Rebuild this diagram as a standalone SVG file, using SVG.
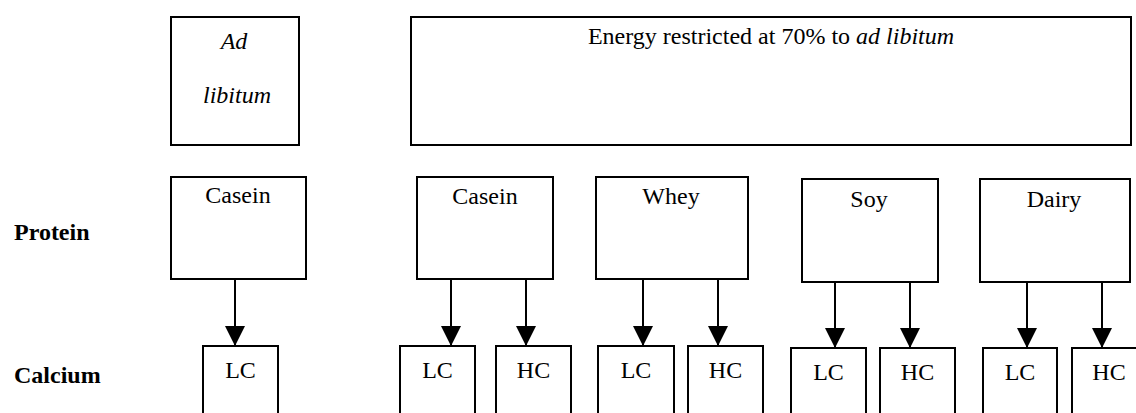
<svg xmlns="http://www.w3.org/2000/svg" width="1136" height="413" viewBox="0 0 1136 413">
<style>
.box{fill:#fff;stroke:#000;stroke-width:2}
.t{font-family:"Liberation Serif","Times New Roman",serif;font-size:24px;fill:#000;text-anchor:middle}
.it{font-style:italic}
.lab{font-family:"Liberation Serif","Times New Roman",serif;font-size:24px;font-weight:bold;fill:#000}
.arr{stroke:#000;stroke-width:2;fill:none;marker-end:url(#ah)}
</style>
<defs>
<marker id="ah" viewBox="0 0 20 20" refX="20" refY="10" markerWidth="20" markerHeight="20" markerUnits="userSpaceOnUse" orient="auto">
<path d="M0,0 L20,10 L0,20 Z" fill="#000"/>
</marker>
</defs>
<rect width="1136" height="413" fill="#fff"/>
<g id="label-protein"><text class="lab" x="14" y="240">Protein</text></g>
<g id="label-calcium"><text class="lab" x="14" y="383">Calcium</text></g>
<g id="adlib"><rect class="box" x="171" y="17" width="128" height="128"/><text class="t it" x="234" y="49">Ad</text><text class="t it" x="237" y="103">libitum</text></g>
<g id="energy"><rect class="box" x="411" y="17" width="720" height="128"/><text class="t" x="771" y="44">Energy restricted at 70% to <tspan class="it">ad libitum</tspan></text></g>
<g id="casein1"><rect class="box" x="171" y="177" width="135" height="102"/><text class="t" x="238" y="203">Casein</text></g>
<g id="casein2"><rect class="box" x="417" y="177" width="136" height="102"/><text class="t" x="485" y="204">Casein</text></g>
<g id="whey"><rect class="box" x="596" y="177" width="152" height="102"/><text class="t" x="671" y="204">Whey</text></g>
<g id="soy"><rect class="box" x="802" y="179" width="136" height="103"/><text class="t" x="869" y="207">Soy</text></g>
<g id="dairy"><rect class="box" x="980" y="179" width="150" height="103"/><text class="t" x="1054" y="207">Dairy</text></g>
<g id="casein1-lc"><rect class="box" x="203" y="346" width="75" height="80"/><text class="t" x="240.5" y="378">LC</text></g>
<g id="casein2-lc"><rect class="box" x="400" y="346" width="75" height="80"/><text class="t" x="437.5" y="378">LC</text></g>
<g id="casein2-hc"><rect class="box" x="496" y="346" width="75" height="80"/><text class="t" x="533.5" y="378">HC</text></g>
<g id="whey-lc"><rect class="box" x="598" y="346" width="76" height="80"/><text class="t" x="636" y="378">LC</text></g>
<g id="whey-hc"><rect class="box" x="688" y="346" width="75" height="80"/><text class="t" x="725.5" y="378">HC</text></g>
<g id="soy-lc"><rect class="box" x="791" y="348" width="75" height="80"/><text class="t" x="828.5" y="380">LC</text></g>
<g id="soy-hc"><rect class="box" x="880" y="348" width="75" height="80"/><text class="t" x="917.5" y="380">HC</text></g>
<g id="dairy-lc"><rect class="box" x="983" y="348" width="74" height="80"/><text class="t" x="1020" y="380">LC</text></g>
<g id="dairy-hc"><rect class="box" x="1072" y="348" width="80" height="80"/><text class="t" x="1109" y="380">HC</text></g>
<g id="connectors">
<line class="arr" x1="235" y1="279" x2="235" y2="346"/>
<line class="arr" x1="451" y1="278" x2="451" y2="346"/>
<line class="arr" x1="526" y1="278" x2="526" y2="346"/>
<line class="arr" x1="643" y1="278" x2="643" y2="346"/>
<line class="arr" x1="718" y1="278" x2="718" y2="346"/>
<line class="arr" x1="835" y1="281" x2="835" y2="348"/>
<line class="arr" x1="910" y1="281" x2="910" y2="348"/>
<line class="arr" x1="1027" y1="281" x2="1027" y2="348"/>
<line class="arr" x1="1102" y1="281" x2="1102" y2="348"/>
</g>
</svg>
